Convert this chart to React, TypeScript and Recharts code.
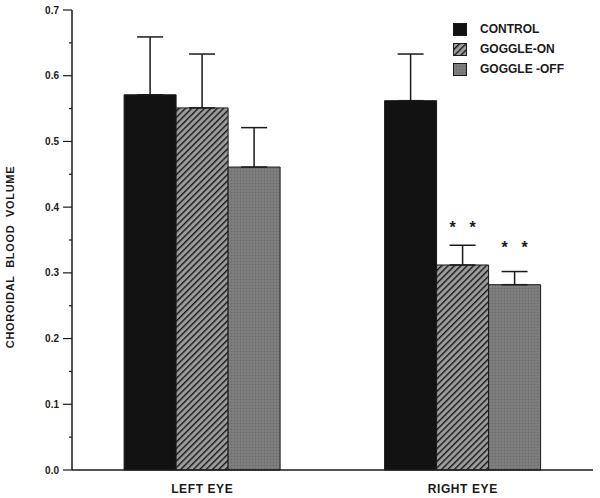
import { BarChart, Bar, XAxis, YAxis, ErrorBar, Legend, LabelList } from 'recharts';

// Choroidal blood volume, left vs right eye
const eyes = ['LEFT EYE', 'RIGHT EYE'];
const seriesNames = ['CONTROL', 'GOGGLE-ON', 'GOGGLE -OFF'];
const control = [0.571, 0.562];
const controlErr = [0.088, 0.071];
const goggleOn = [0.551, 0.312];
const goggleOnErr = [0.082, 0.03];
const goggleOff = [0.461, 0.282];
const goggleOffErr = [0.06, 0.02];
const significance = ['', '**'];
const yTicks = [0, 0.05, 0.1, 0.15, 0.2, 0.25, 0.3, 0.35, 0.4, 0.45, 0.5, 0.55, 0.6, 0.65, 0.7];

const data = eyes.map((eye, i) => ({
  eye,
  control: control[i],
  controlErr: [0, controlErr[i]],
  goggleOn: goggleOn[i],
  goggleOnErr: [0, goggleOnErr[i]],
  goggleOff: goggleOff[i],
  goggleOffErr: [0, goggleOffErr[i]],
  mark: significance[i],
}));

const FONT = '"Liberation Sans", Arial, Helvetica, sans-serif';
const INK = '#1a1a1a';
const fills = ['#121212', 'url(#hatchOn)', 'url(#grainOff)'];

const YTick = (props: any) => {
  const { x, y, payload } = props;
  const v = payload.value as number;
  const major = Math.round(v * 100) % 10 === 0;
  return (
    <g>
      <line x1={x - (major ? 9 : 3)} x2={x} y1={y} y2={y} stroke={INK} strokeWidth={1.2} />
      {major && (
        <text x={x - 13} y={y} dy={3.6} textAnchor="end" fontFamily={FONT} fontWeight="bold" fontSize={10} fill={INK}>
          {v.toFixed(1)}
        </text>
      )}
    </g>
  );
};

const YTitle = (props: any) => {
  const { viewBox } = props;
  const cy = viewBox.y + viewBox.height / 2 + 17;
  return (
    <text
      transform={`translate(14, ${cy}) rotate(-90)`}
      textAnchor="middle"
      fontFamily={FONT}
      fontWeight="bold"
      fontSize={11}
      letterSpacing={0.7}
      fill={INK}
    >
      {'CHOROIDAL\u00A0\u00A0BLOOD\u00A0\u00A0VOLUME'}
    </text>
  );
};

const Stars = (props: any) => {
  const { x, y, width, value } = props;
  if (!value) return null;
  const cx = x + width / 2;
  return (
    <g fontFamily={FONT} fontWeight="bold" fontSize={16} fill={INK} textAnchor="middle">
      <text x={cx - 10} y={y - 32}>*</text>
      <text x={cx + 10} y={y - 32}>*</text>
    </g>
  );
};

const LegendBox = () => (
  <div style={{ fontFamily: FONT, fontWeight: 'bold', fontSize: 12, color: INK }}>
    {seriesNames.map((name, i) => (
      <div key={name} style={{ display: 'flex', alignItems: 'center', height: 20 }}>
        <svg width={14} height={13} style={{ marginRight: 13 }}>
          <rect x={0.5} y={0.5} width={13} height={12} fill={fills[i]} stroke={INK} />
        </svg>
        <span>{name}</span>
      </div>
    ))}
  </div>
);

export default function App() {
  return (
    <div style={{ position: 'absolute', left: 0, top: 0, width: 600, height: 498, background: '#fff' }}>
      <svg width={0} height={0} style={{ position: 'absolute' }}>
        <defs>
          <pattern id="hatchOn" patternUnits="userSpaceOnUse" width={4.5} height={4.5} patternTransform="rotate(45)">
            <rect width={4.5} height={4.5} fill="#9c9c9c" />
            <line x1={0} y1={0} x2={0} y2={4.5} stroke="#181818" strokeWidth={2.8} />
          </pattern>
          <pattern id="grainOff" patternUnits="userSpaceOnUse" width={3} height={3}>
            <rect width={3} height={3} fill="#7a7a7a" />
            <rect width={1} height={1} fill="#6a6a6a" />
            <rect x={1.5} y={1.5} width={1} height={1} fill="#888888" />
          </pattern>
        </defs>
      </svg>
      <BarChart
        width={600}
        height={498}
        data={data}
        margin={{ top: 10, right: 7, left: 0, bottom: 0 }}
        barCategoryGap="20%"
        barGap={0}
      >
        <XAxis
          dataKey="eye"
          height={28}
          tickLine={false}
          tickMargin={8}
          axisLine={{ stroke: INK, strokeWidth: 1.5 }}
          tick={{ fontFamily: FONT, fontWeight: 'bold', fontSize: 12, fill: INK, letterSpacing: 0.6 }}
        />
        <XAxis xAxisId="top" dataKey="eye" orientation="top" height={0} tick={false} tickLine={false} axisLine={{ stroke: INK, strokeWidth: 1.5 }} />
        <YAxis
          domain={[0, 0.7]}
          ticks={yTicks}
          width={72}
          tickSize={0}
          tickMargin={0}
          tickLine={false}
          interval={0}
          axisLine={{ stroke: INK, strokeWidth: 1.5 }}
          tick={<YTick />}
          label={<YTitle />}
        />
        <YAxis yAxisId="right" orientation="right" domain={[0, 0.7]} width={0} tick={false} tickLine={false} axisLine={{ stroke: INK, strokeWidth: 1.5 }} />
        <Legend
          layout="vertical"
          align="center"
          verticalAlign="middle"
          wrapperStyle={{ left: 453, top: 19, width: 140 }}
          content={<LegendBox />}
        />
        <Bar dataKey="control" name={seriesNames[0]} fill={fills[0]} stroke={INK} isAnimationActive={false}>
          <ErrorBar dataKey="controlErr" width={13} stroke={INK} strokeWidth={1.5} />
        </Bar>
        <Bar dataKey="goggleOn" name={seriesNames[1]} fill={fills[1]} stroke={INK} isAnimationActive={false}>
          <ErrorBar dataKey="goggleOnErr" width={13} stroke={INK} strokeWidth={1.5} />
          <LabelList dataKey="mark" content={<Stars />} />
        </Bar>
        <Bar dataKey="goggleOff" name={seriesNames[2]} fill={fills[2]} stroke={INK} isAnimationActive={false}>
          <ErrorBar dataKey="goggleOffErr" width={13} stroke={INK} strokeWidth={1.5} />
          <LabelList dataKey="mark" content={<Stars />} />
        </Bar>
      </BarChart>
    </div>
  );
}
